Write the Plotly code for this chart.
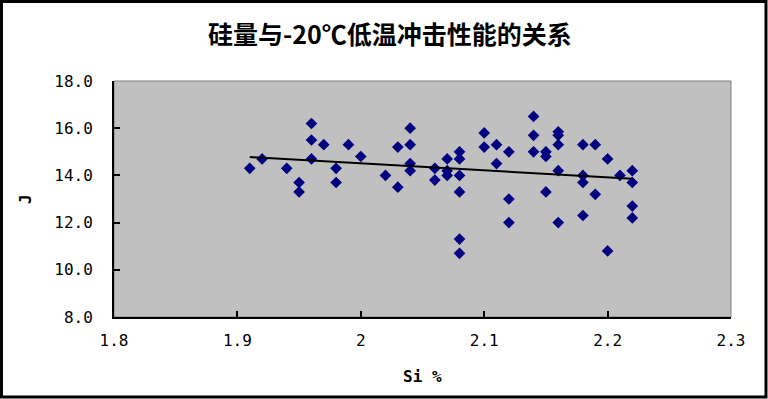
import numpy as np
import plotly.graph_objects as go

# Data
si = [1.91, 1.92, 1.94, 1.95, 1.95, 1.96, 1.96, 1.96, 1.97, 1.98, 1.98, 1.99, 2.00,
      2.02, 2.03, 2.03, 2.04, 2.04, 2.04, 2.04, 2.06, 2.06, 2.07, 2.07, 2.07,
      2.08, 2.08, 2.08, 2.08, 2.08, 2.08, 2.10, 2.10, 2.11, 2.11, 2.12, 2.12, 2.12,
      2.14, 2.14, 2.14, 2.15, 2.15, 2.15, 2.16, 2.16, 2.16, 2.16, 2.16,
      2.18, 2.18, 2.18, 2.18, 2.19, 2.19, 2.20, 2.20, 2.21, 2.22, 2.22, 2.22, 2.22]
impact = [14.3, 14.7, 14.3, 13.7, 13.3, 16.2, 15.5, 14.7, 15.3, 14.3, 13.7, 15.3, 14.8,
          14.0, 15.2, 13.5, 16.0, 15.3, 14.5, 14.2, 14.3, 13.8, 14.7, 14.2, 14.0,
          15.0, 14.7, 14.0, 13.3, 11.3, 10.7, 15.8, 15.2, 15.3, 14.5, 15.0, 13.0, 12.0,
          16.5, 15.7, 15.0, 15.0, 14.8, 13.3, 15.85, 15.7, 15.3, 14.2, 12.0,
          15.3, 14.0, 13.7, 12.3, 15.3, 13.2, 14.7, 10.8, 14.0, 14.2, 13.7, 12.7, 12.2]

x_tickvals = [1.8, 1.9, 2.0, 2.1, 2.2, 2.3]
x_ticktext = ["1.8", "1.9", "2", "2.1", "2.2", "2.3"]
y_tickvals = [8, 10, 12, 14, 16, 18]
y_ticktext = ["8.0", "10.0", "12.0", "14.0", "16.0", "18.0"]

title_text = "硅量与-20℃低温冲击性能的关系"

# Linear trendline (least squares on the data)
slope, intercept = np.polyfit(si, impact, 1)
trend_x = [min(si), max(si)]
trend_y = [slope * v + intercept for v in trend_x]

mono = "DejaVu Sans Mono, Liberation Mono, monospace"
tick_font = dict(family=mono, size=16, color="black")

fig = go.Figure()
fig.add_trace(go.Scatter(
    x=si, y=impact, mode="markers",
    marker=dict(symbol="diamond", size=9, color="#000080",
                line=dict(width=0)),
    showlegend=False, hoverinfo="x+y"))
fig.add_trace(go.Scatter(
    x=trend_x, y=trend_y, mode="lines",
    line=dict(color="black", width=2),
    showlegend=False, hoverinfo="skip"))

L, R, T, B = 114, 37, 81, 82
W, H = 768, 399
pw, ph = W - L - R, H - T - B

def px_x(p):
    return (p - L) / pw

def px_y(p):
    return (H - B - p) / ph

fig.update_layout(
    width=W, height=H,
    margin=dict(l=L, r=R, t=T, b=B, pad=0),
    paper_bgcolor="white",
    plot_bgcolor="#C0C0C0",
    title=dict(text="<b>" + title_text + "</b>", x=390 / W, xanchor="center",
               y=1 - 35 / H, yanchor="middle", yref="container",
               font=dict(family="Noto Sans CJK SC", size=25, color="black")),
    xaxis=dict(range=[1.8, 2.3], tickvals=x_tickvals, ticktext=x_ticktext,
               showgrid=False, zeroline=False, showline=True, linecolor="black",
               linewidth=2, ticks="inside", ticklen=6, tickcolor="black",
               tickwidth=2, tickfont=tick_font, ticklabelstandoff=8),
    yaxis=dict(range=[8, 18], tickvals=y_tickvals, ticktext=y_ticktext,
               showgrid=False, zeroline=False, showline=True, linecolor="black",
               linewidth=2, ticks="inside", ticklen=6, tickcolor="black",
               tickwidth=2, tickfont=tick_font, ticklabelstandoff=16),
    shapes=[
        dict(type="rect", xref="paper", yref="paper", x0=0, x1=1, y0=0, y1=1,
             line=dict(color="#808080", width=1), layer="below"),
        dict(type="rect", xref="paper", yref="paper",
             x0=px_x(1.5), x1=px_x(766), y0=px_y(397), y1=px_y(1.5),
             line=dict(color="black", width=3), layer="above"),
    ],
    annotations=[
        dict(text="<b>J</b>", xref="paper", yref="paper", x=px_x(25), y=px_y(199),
             showarrow=False, textangle=-90, xanchor="center", yanchor="middle",
             font=dict(family=mono, size=16, color="black")),
        dict(text="<b>Si %</b>", xref="paper", yref="paper", x=px_x(422), y=px_y(376),
             showarrow=False, xanchor="center", yanchor="middle",
             font=dict(family=mono, size=16, color="black")),
    ],
)

fig.write_html("out.html", config={"displayModeBar": False},
               post_script="document.body.style.margin='0';document.body.style.overflow='hidden';")
